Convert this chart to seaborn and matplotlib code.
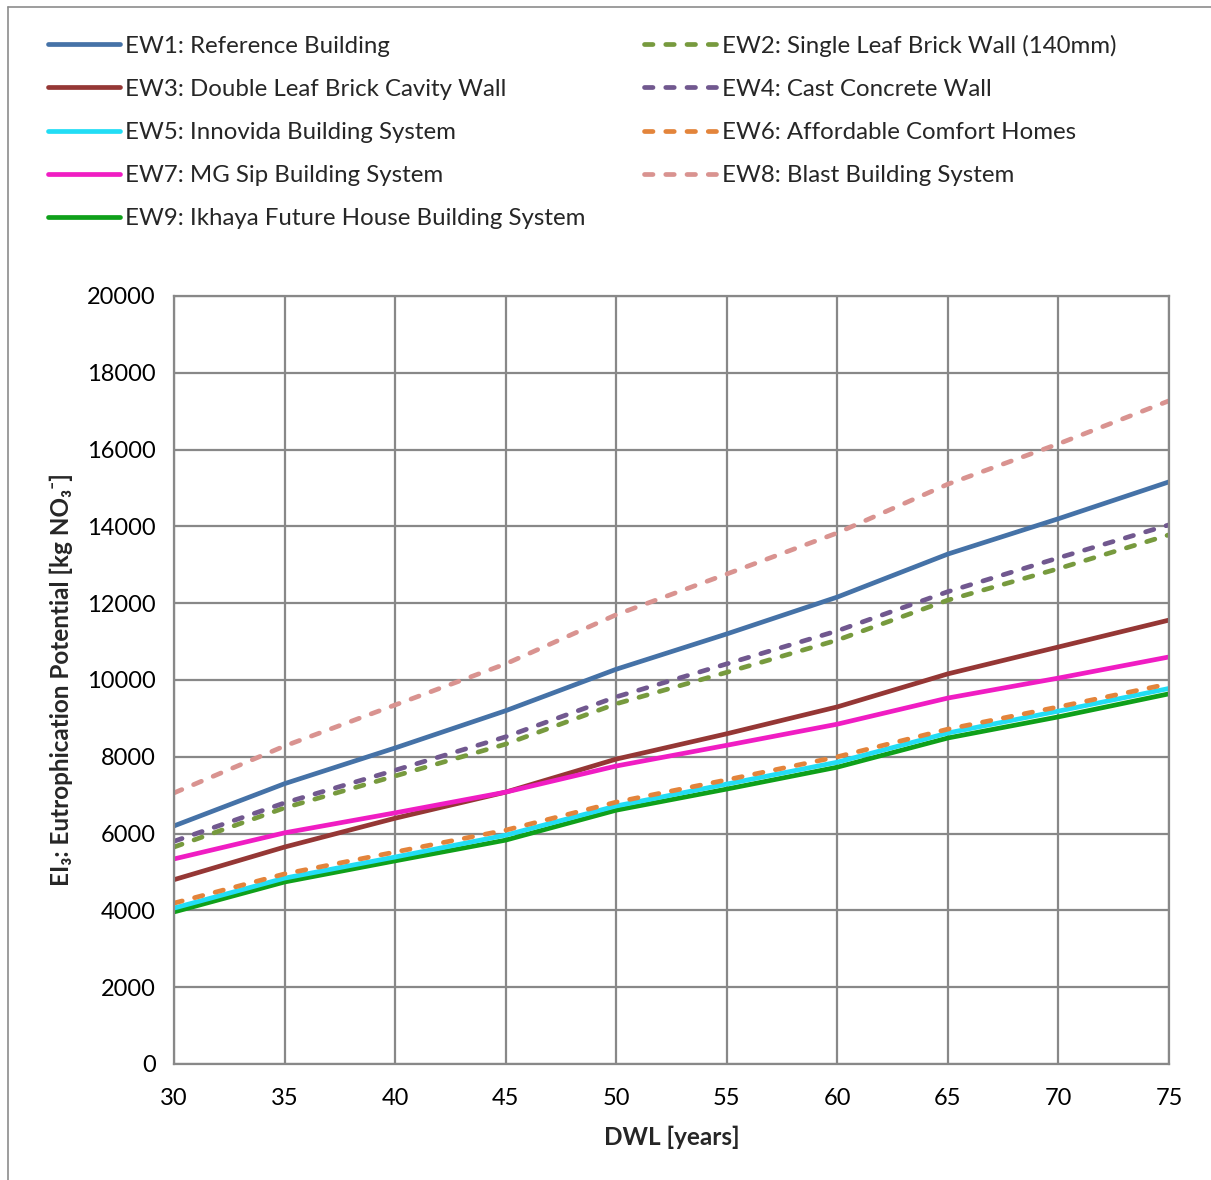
import numpy as np
import pandas as pd
import seaborn as sns
import matplotlib.pyplot as plt
from matplotlib.lines import Line2D

# ---------------- data ----------------
years = [30, 35, 40, 45, 50, 55, 60, 65, 70, 75]

ew1 = [6200, 7300, 8230, 9200, 10280, 11200, 12160, 13280, 14200, 15160]
ew2 = [5650, 6670, 7500, 8330, 9380, 10200, 11040, 12080, 12900, 13780]
ew3 = [4800, 5650, 6400, 7080, 7940, 8600, 9300, 10160, 10860, 11560]
ew4 = [5800, 6800, 7650, 8520, 9560, 10420, 11280, 12300, 13180, 14040]
ew5 = [4060, 4840, 5390, 5960, 6720, 7290, 7860, 8620, 9190, 9780]
ew6 = [4190, 4950, 5520, 6090, 6820, 7400, 8000, 8720, 9300, 9900]
ew7 = [5340, 6020, 6540, 7080, 7760, 8300, 8850, 9530, 10050, 10600]
ew8 = [7060, 8280, 9350, 10420, 11700, 12760, 13830, 15100, 16150, 17270]
ew9 = [3960, 4740, 5290, 5830, 6610, 7160, 7730, 8490, 9040, 9640]

labels = {
    'EW1': 'EW1: Reference Building',
    'EW2': 'EW2: Single Leaf Brick Wall (140mm)',
    'EW3': 'EW3: Double Leaf Brick Cavity Wall',
    'EW4': 'EW4: Cast Concrete Wall',
    'EW5': 'EW5: Innovida Building System',
    'EW6': 'EW6: Affordable Comfort Homes',
    'EW7': 'EW7: MG Sip Building System',
    'EW8': 'EW8: Blast Building System',
    'EW9': 'EW9: Ikhaya Future House Building System',
}
series = {'EW1': ew1, 'EW2': ew2, 'EW3': ew3, 'EW4': ew4, 'EW5': ew5,
          'EW6': ew6, 'EW7': ew7, 'EW8': ew8, 'EW9': ew9}
colors = {'EW1': '#4572A7', 'EW2': '#779A3E', 'EW3': '#953735', 'EW4': '#71588F',
          'EW5': '#22DDF5', 'EW6': '#E3843B', 'EW7': '#F01DC3', 'EW8': '#D99390',
          'EW9': '#0FA01A'}
dashed = {'EW2', 'EW4', 'EW6', 'EW8'}

# draw order (back to front) roughly as in the reference
draw_order = ['EW8', 'EW1', 'EW2', 'EW4', 'EW3', 'EW7', 'EW9', 'EW5', 'EW6']
legend_order = ['EW1', 'EW3', 'EW5', 'EW7', 'EW9', 'EW2', 'EW4', 'EW6', 'EW8']

sns.set_style('white')
plt.rcParams['font.family'] = ['Lato', 'DejaVu Sans']

fig = plt.figure(figsize=(12.11, 11.8), dpi=100)
ax = fig.add_axes([174 / 1211, 1 - 1064 / 1180, (1169 - 174) / 1211, (1064 - 296) / 1180])

grid_c = '#888888'
handles = {}
for key in draw_order:
    df = pd.DataFrame({'DWL': years, 'EI': series[key]})
    sns.lineplot(data=df, x='DWL', y='EI', ax=ax, color=colors[key], lw=3.4,
                 label=labels[key], legend=False)
    ln = ax.lines[-1]
    if key in dashed:
        ln.set_dashes((1.8, 2.7))
        ln.set_dash_capstyle('round')
    handles[key] = ln

ax.set_xlim(30, 75)
ax.set_ylim(0, 20000)
ax.set_xticks(years)
ax.set_yticks(np.arange(0, 20001, 2000))
ax.grid(True, color=grid_c, lw=1.6)
ax.set_axisbelow(True)
for s in ax.spines.values():
    s.set_color(grid_c)
    s.set_linewidth(1.6)
ax.tick_params(axis='both', direction='out', length=7, width=1.4, color=grid_c,
               labelsize=17, labelcolor='black', pad=6)
ax.tick_params(axis='x', pad=10)

ax.set_xlabel('DWL [years]', fontsize=17.5, fontweight='bold', labelpad=12)
ax.set_ylabel('EI\u2083: Eutrophication Potential [kg NO\u2083\u207b]',
              fontsize=17.5, fontweight='bold', labelpad=10)

leg = fig.legend([handles[k] for k in legend_order], [labels[k] for k in legend_order],
                 ncol=2, loc='upper left', bbox_to_anchor=(26 / 1211, 1 - 13 / 1180),
                 frameon=False, fontsize=17.3, handlelength=3.0, handletextpad=0.22,
                 labelspacing=0.92, columnspacing=2.45)

# chart-area border (top and left visible in the reference)
fig.add_artist(Line2D([8 / 1211, 8 / 1211], [0, 1 - 7 / 1180], transform=fig.transFigure,
                      color='#8c8c8c', lw=1.2))
fig.add_artist(Line2D([8 / 1211, 1], [1 - 7 / 1180, 1 - 7 / 1180], transform=fig.transFigure,
                      color='#8c8c8c', lw=1.2))

fig.savefig('out.png', dpi=100)
